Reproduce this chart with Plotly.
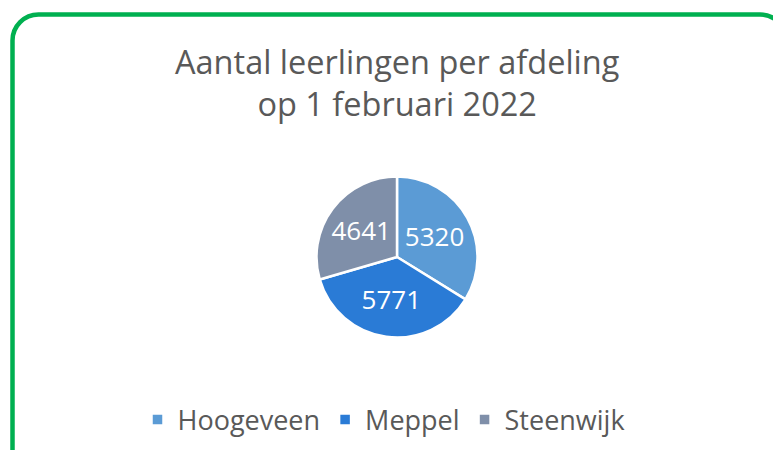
import plotly.graph_objects as go

labels = ["Hoogeveen", "Meppel", "Steenwijk"]
values = [5320, 5771, 4641]
colors = ["#5B9BD5", "#2A7BD6", "#7F8FA9"]
title_lines = ["Aantal leerlingen per afdeling", "op 1 februari 2022"]

W, H = 773, 450

def px(x):
    return x / W

def py(y):
    return 1 - y / H

# pie placement (pixels)
cx, cy, r = 397, 257, 80.5

fig = go.Figure(go.Pie(
    labels=labels, values=values, sort=False, direction="clockwise", rotation=0,
    marker=dict(colors=colors, line=dict(color="white", width=2.5)),
    textinfo="value", textposition="inside", insidetextorientation="horizontal",
    textfont=dict(color="white", size=26, family="Open Sans"),
    domain=dict(x=[px(cx - r), px(cx + r)], y=[py(cy + r), py(cy - r)]),
    hoverinfo="label+value",
))

# rounded green border
x0, y0, x1, y1, rr = 12.5, 14.5, 786, 480, 26
k = 0.5523 * rr
path = (f"M {px(x0)},{py(y1)} L {px(x0)},{py(y0 + rr)} "
        f"C {px(x0)},{py(y0 + rr - k)} {px(x0 + rr - k)},{py(y0)} {px(x0 + rr)},{py(y0)} "
        f"L {px(x1 - rr)},{py(y0)} "
        f"C {px(x1 - rr + k)},{py(y0)} {px(x1)},{py(y0 + rr - k)} {px(x1)},{py(y0 + rr)} "
        f"L {px(x1)},{py(y1)}")
fig.add_shape(type="path", xref="paper", yref="paper", path=path,
              line=dict(color="#00B050", width=4.5))

fig.add_annotation(text="<br>".join(title_lines), xref="paper", yref="paper",
                   x=px(397), y=py(83), xanchor="center", yanchor="middle",
                   showarrow=False, align="center",
                   font=dict(size=32.5, color="#595959", family="Open Sans"))

fig.update_layout(
    width=W, height=H, margin=dict(l=0, r=0, t=0, b=0),
    paper_bgcolor="white", plot_bgcolor="white",
    showlegend=True,
    legend=dict(orientation="h", x=px(384), xanchor="center", y=py(420), yanchor="middle",
                font=dict(size=27, color="#595959", family="Open Sans"),
                itemwidth=30, traceorder="normal"),
)

fig.write_html("out.html", config={"displayModeBar": False},
               post_script="document.body.style.margin='0';")
